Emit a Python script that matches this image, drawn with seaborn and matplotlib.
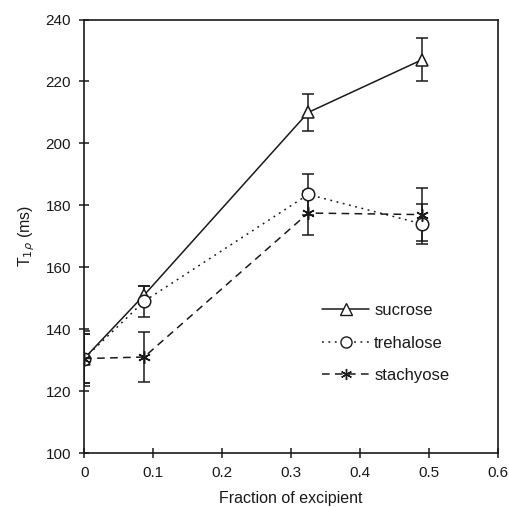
import matplotlib
matplotlib.use("Agg")
import matplotlib.pyplot as plt
import seaborn as sns
import pandas as pd
from matplotlib.lines import Line2D

fraction = [0.0, 0.087, 0.325, 0.49]
sucrose = [130.5, 151.0, 210.0, 227.0]
sucrose_err = [9.0, 3.0, 6.0, 7.0]
trehalose = [130.5, 149.0, 183.5, 174.0]
trehalose_err = [8.0, 5.0, 6.5, 6.5]
stachyose = [130.5, 131.0, 177.5, 177.0]
stachyose_err = [8.0, 8.0, 7.0, 8.5]
series_names = ["sucrose", "trehalose", "stachyose"]

sns.set_theme(style="ticks")
plt.rcParams["font.family"] = ["Liberation Sans", "DejaVu Sans"]
ink = "#1a1a1a"

rows = []
for name, vals, errs in zip(series_names, [sucrose, trehalose, stachyose],
                            [sucrose_err, trehalose_err, stachyose_err]):
    for x, y, e in zip(fraction, vals, errs):
        rows.append({"x": x, "y": y, "err": e, "series": name})
df = pd.DataFrame(rows)

fig = plt.figure(figsize=(5.10, 5.07), dpi=100)
ax = fig.add_axes([0.165, 0.1065, 0.811, 0.855])

markers = {"sucrose": "^", "trehalose": "o", "stachyose": (6, 2, 0)}
linestyles = {"sucrose": "-", "trehalose": (0, (1.2, 3)), "stachyose": (0, (5, 3.5))}

for name in series_names:
    sub = df[df.series == name]
    ax.errorbar(sub.x, sub.y, yerr=sub.err, fmt="none", ecolor=ink,
                elinewidth=1.1, capsize=4, capthick=1.1, zorder=2)
    sns.lineplot(data=sub, x="x", y="y", color=ink, marker=markers[name],
                 linestyle=linestyles[name], markersize=9,
                 markerfacecolor="white", markeredgecolor=ink,
                 markeredgewidth=1.1, linewidth=1.1, ax=ax, zorder=3,
                 errorbar=None)

ax.set_xlim(0, 0.6)
ax.set_ylim(100, 240)
ax.set_xticks([0, 0.1, 0.2, 0.3, 0.4, 0.5, 0.6])
ax.set_xticklabels(["0", "0.1", "0.2", "0.3", "0.4", "0.5", "0.6"])
ax.set_yticks(range(100, 241, 20))
ax.tick_params(direction="inout", length=7, width=1.1, colors=ink,
               labelsize=11, pad=6)
for s in ax.spines.values():
    s.set_visible(True)
    s.set_color(ink)
    s.set_linewidth(1.2)

ax.set_xlabel("Fraction of excipient", fontsize=11.5, color=ink, labelpad=8)
ax.set_ylabel(r"T$_{1\rho}$ (ms)", fontsize=11.5, color=ink, labelpad=6)

handles = []
for name in series_names:
    handles.append(Line2D([], [], color=ink, linewidth=1.1,
                          linestyle=linestyles[name],
                          marker=markers[name], markersize=8,
                          markerfacecolor="white", markeredgecolor=ink))
leg = ax.legend(handles, series_names, loc="upper left",
                bbox_to_anchor=(0.54, 0.38), frameon=False, fontsize=12,
                handlelength=2.8, handletextpad=0.3, labelspacing=1.05,
                labelcolor=ink)

fig.savefig("out.png", dpi=100)
